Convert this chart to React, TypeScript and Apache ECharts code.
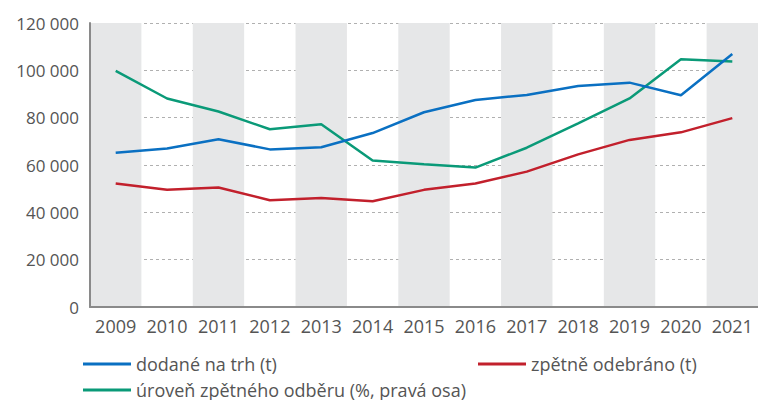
import React, { useEffect, useRef } from "react";
import * as echarts from "echarts";

const years = ["2009", "2010", "2011", "2012", "2013", "2014", "2015", "2016", "2017", "2018", "2019", "2020", "2021"];
const dodane = [65200, 67000, 70900, 66600, 67500, 73500, 82300, 87500, 89600, 93400, 94800, 89500, 106900];
const odebrano = [52200, 49500, 50500, 45100, 46100, 44700, 49500, 52200, 57200, 64500, 70600, 73800, 79800];
const uroven = [79.9, 74.05, 71.3, 67.55, 68.6, 60.95, 60.15, 59.45, 63.65, 68.8, 74.05, 82.35, 81.85];

const nameBlue = "dodané na trh (t)";
const nameRed = "zpětně odebráno (t)";
const nameGreen = "úroveň zpětného odběru (%, pravá osa)";

const FONT = "'Open Sans', 'Noto Sans', sans-serif";

export default function App() {
  const ref = useRef<HTMLDivElement>(null);
  useEffect(() => {
    if (!ref.current) return;
    const chart = echarts.init(ref.current, undefined, { renderer: "svg" });
    const legendCommon = {
      orient: "horizontal",
      itemWidth: 48,
      itemHeight: 3,
      icon: "rect",
      itemGap: 10,
      selectedMode: false,
      padding: [0, 5, 0, 5],
      textStyle: { fontFamily: FONT, fontSize: 18, color: "#555", lineHeight: 18 },
    };
    chart.setOption({
      animation: false,
      textStyle: { fontFamily: FONT },
      grid: { left: 90, right: 0, top: 23, bottom: 93, containLabel: false },
      legend: [
        { ...legendCommon, data: [nameBlue], left: 78, top: 355 },
        { ...legendCommon, data: [nameRed], left: 473, top: 355 },
        { ...legendCommon, data: [nameGreen], left: 78, top: 381 },
      ],
      xAxis: {
        type: "category",
        data: years,
        boundaryGap: true,
        axisLine: { show: true, lineStyle: { color: "#8a8a8a", width: 2 } },
        axisTick: { show: false },
        axisLabel: { interval: 0, hideOverlap: false, color: "#555", fontSize: 18, fontFamily: FONT, margin: 10 },
        splitArea: { show: true, interval: 0, areaStyle: { color: ["#e6e7e8", "rgba(255,255,255,0)"] } },
        splitLine: { show: false },
      },
      yAxis: [
        {
          type: "value",
          min: 0,
          max: 120000,
          interval: 20000,
          axisLine: { show: true, lineStyle: { color: "#8a8a8a", width: 2 } },
          axisTick: { show: false },
          axisLabel: {
            color: "#555",
            fontSize: 17,
            fontFamily: FONT,
            margin: 11,
            formatter: (v: number) => String(v).replace(/\B(?=(\d{3})+(?!\d))/g, " "),
          },
          splitLine: { show: true, lineStyle: { color: "#b0b0b0", type: [3, 3], width: 1 } },
        },
        {
          type: "value",
          min: 30,
          max: 90,
          interval: 10,
          show: false,
          splitLine: { show: false },
        },
      ],
      series: [
        {
          name: nameBlue,
          type: "line",
          data: dodane,
          symbol: "none",
          lineStyle: { color: "#0a70c2", width: 2.5 },
          itemStyle: { color: "#0a70c2" },
          z: 3,
        },
        {
          name: nameRed,
          type: "line",
          data: odebrano,
          symbol: "none",
          lineStyle: { color: "#c2202c", width: 2.5 },
          itemStyle: { color: "#c2202c" },
          z: 2,
        },
        {
          name: nameGreen,
          type: "line",
          yAxisIndex: 1,
          data: uroven,
          symbol: "none",
          lineStyle: { color: "#0a9a78", width: 2.5 },
          itemStyle: { color: "#0a9a78" },
          z: 2,
        },
      ],
    });
    return () => chart.dispose();
  }, []);
  return <div ref={ref} style={{ width: 758, height: 400, position: "absolute", left: 0, top: 0 }} />;
}
